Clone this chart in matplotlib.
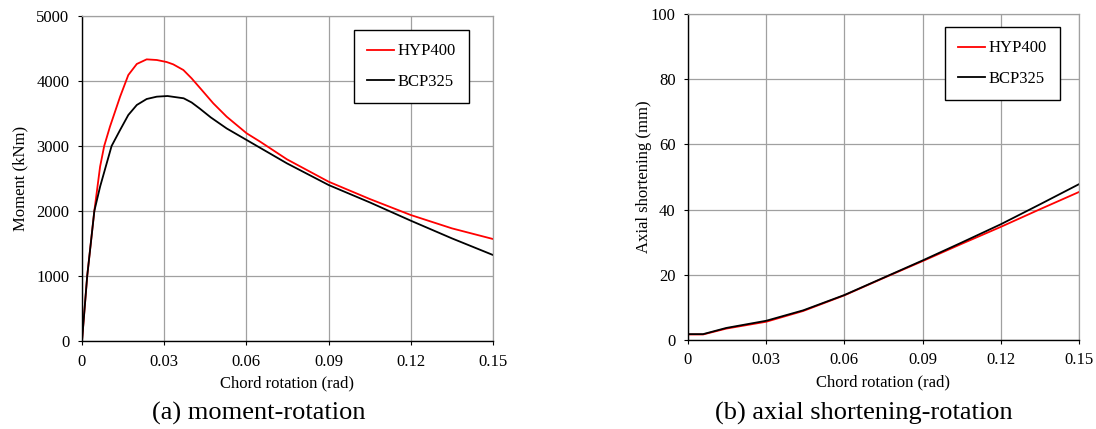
import matplotlib
matplotlib.use("Agg")
import matplotlib.pyplot as plt

plt.rcParams['font.family'] = ['Liberation Serif', 'DejaVu Serif']

# Moment-rotation data
rot_hyp = [0, 0.0019, 0.0045, 0.0066, 0.0081, 0.0102, 0.0139, 0.0169, 0.0200, 0.0236,
           0.0273, 0.0309, 0.0333, 0.0370, 0.0400, 0.0437, 0.0479, 0.0528, 0.0601,
           0.0650, 0.0748, 0.0900, 0.1050, 0.1200, 0.1350, 0.1500]
mom_hyp = [0, 1000, 2000, 2682, 3000, 3297, 3758, 4092, 4262, 4333,
           4323, 4292, 4256, 4169, 4041, 3862, 3657, 3451, 3195,
           3067, 2795, 2451, 2185, 1938, 1733, 1569]
rot_bcp = [0, 0.0019, 0.0045, 0.0066, 0.0108, 0.0139, 0.0169, 0.0200, 0.0236, 0.0273,
           0.0312, 0.0371, 0.0400, 0.0430, 0.0470, 0.0528, 0.0601, 0.0748, 0.0900, 0.1050,
           0.1200, 0.1350, 0.1500]
mom_bcp = [0, 1000, 2000, 2374, 3000, 3246, 3477, 3631, 3723, 3759,
           3769, 3734, 3670, 3575, 3440, 3270, 3092, 2733, 2400, 2133,
           1851, 1579, 1323]

# Axial shortening-rotation data
rot_ax = [0, 0.0058, 0.0147, 0.03, 0.0442, 0.06, 0.075, 0.09, 0.105, 0.12, 0.135, 0.15]
ax_hyp = [1.7, 1.7, 3.5, 5.6, 8.9, 13.7, 19.0, 24.2, 29.5, 34.7, 40.1, 45.4]
ax_bcp = [1.8, 1.8, 3.7, 5.9, 9.1, 13.8, 19.1, 24.4, 29.9, 35.5, 41.6, 47.8]

xticks = [0, 0.03, 0.06, 0.09, 0.12, 0.15]
xticklabels = ['0', '0.03', '0.06', '0.09', '0.12', '0.15']
labels = ['HYP400', 'BCP325']

fig = plt.figure(figsize=(10.96, 4.29), dpi=100)
ax1 = fig.add_axes([82/1096, 1-341/429, 411/1096, 325/429])
ax2 = fig.add_axes([688/1096, 1-340/429, 391/1096, 326/429])

FS = 12


def style(ax, yticks, ylim, ylabel, ylab_x):
    ax.set_xlim(0, 0.15)
    ax.set_ylim(*ylim)
    ax.set_xticks(xticks)
    ax.set_xticklabels(xticklabels)
    ax.set_yticks(yticks)
    ax.grid(True, color='#a0a0a0', lw=0.9)
    ax.set_axisbelow(True)
    ax.tick_params(direction='out', length=3, width=0.8, labelsize=FS, pad=6)
    for s in ['top', 'right']:
        ax.spines[s].set_color('#a0a0a0')
        ax.spines[s].set_linewidth(0.9)
    for s in ['left', 'bottom']:
        ax.spines[s].set_color('black')
        ax.spines[s].set_linewidth(1.0)
    ax.set_xlabel('Chord rotation (rad)', fontsize=FS, labelpad=4)
    ax.set_ylabel(ylabel, fontsize=FS)
    ax.yaxis.set_label_coords(ylab_x, 0.5)


ax1.plot(rot_hyp, mom_hyp, color='red', lw=1.3, label=labels[0])
ax1.plot(rot_bcp, mom_bcp, color='black', lw=1.3, label=labels[1])
style(ax1, [0, 1000, 2000, 3000, 4000, 5000], (0, 5000), 'Moment (kNm)', -0.13)

ax2.plot(rot_ax, ax_hyp, color='red', lw=1.3, label=labels[0])
ax2.plot(rot_ax, ax_bcp, color='black', lw=1.3, label=labels[1])
style(ax2, [0, 20, 40, 60, 80, 100], (0, 100), 'Axial shortening (mm)', -0.092)

for ax, anchor in ((ax1, (469/1096, 1-30/429)), (ax2, (1060/1096, 1-27/429))):
    leg = ax.legend(loc='upper right', bbox_to_anchor=anchor, bbox_transform=fig.transFigure,
                    fontsize=FS, frameon=True, fancybox=False, edgecolor='black', framealpha=1,
                    handlelength=1.6, handletextpad=0.2, labelspacing=0.85,
                    borderpad=0.8, borderaxespad=0)
    leg.get_frame().set_linewidth(1.0)

fig.text(259/1096, 1-413/429, '(a) moment-rotation', ha='center', va='center', fontsize=19)
fig.text(864/1096, 1-413/429, '(b) axial shortening-rotation', ha='center', va='center', fontsize=19)

fig.savefig('out.png', dpi=100)
